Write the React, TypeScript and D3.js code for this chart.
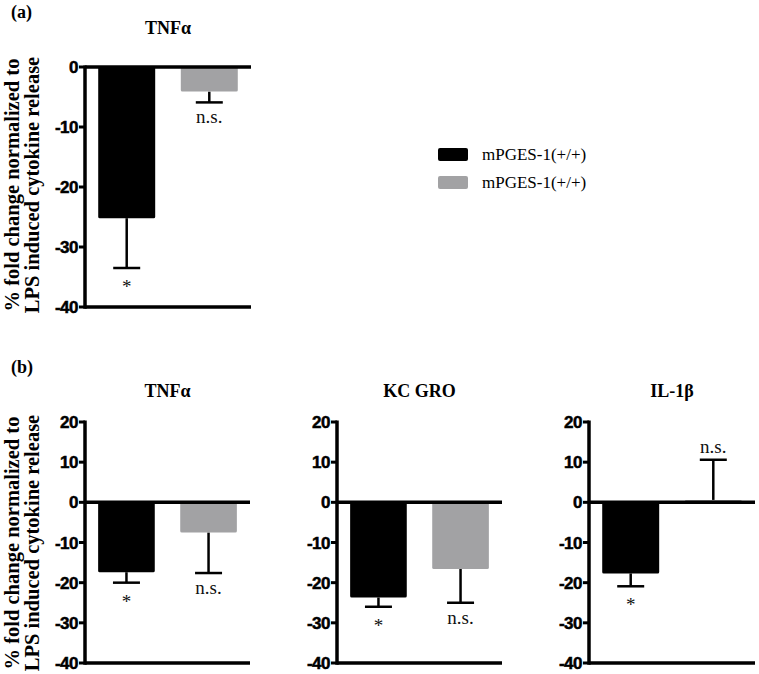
import React from "react";
import * as d3 from "d3";

const seriesLabels = ["mPGES-1(+/+)", "mPGES-1(+/+)"];
const seriesColors = ["#000000", "#a2a2a4"];

// Panel (a)
const panelACategories = ["TNFα"];
const panelAMeans = [[-25.2, -4.1]];
const panelAErrors = [[8.3, 1.8]];
const panelASig = [["*", "n.s."]];
const panelATicks = [0, -10, -20, -30, -40];

// Panel (b)
const panelBCategories = ["TNFα", "KC GRO", "IL-1β"];
const panelBMeans = [
  [-17.4, -7.5],
  [-23.7, -16.6],
  [-17.7, 0.6],
];
const panelBErrors = [
  [2.6, 10.1],
  [2.3, 8.4],
  [3.2, 10.0],
];
const panelBSig = [
  ["*", "n.s."],
  ["*", "n.s."],
  ["*", "n.s."],
];
const panelBTicks = [20, 10, 0, -10, -20, -30, -40];

const SERIF = "'Liberation Serif', 'Times New Roman', serif";
const SANS = "'Liberation Sans', Arial, sans-serif";

type SubProps = {
  title: string;
  means: number[];
  errors: number[];
  sig: string[];
  x0: number;
  x1: number;
  y: d3.ScaleLinear<number, number>;
  ticks: number[];
  titleY: number;
};

function Subplot({ title, means, errors, sig, x0, x1, y, ticks, titleY }: SubProps) {
  const x = d3
    .scaleBand<number>()
    .domain([0, 1])
    .range([x0, x1])
    .paddingInner(0.31)
    .paddingOuter(0.16);
  const [dMin, dMax] = y.domain();
  const capW = 27;
  return (
    <g>
      <text
        x={(x0 + x1) / 2}
        y={titleY}
        textAnchor="middle"
        fontFamily={SERIF}
        fontWeight="bold"
        fontSize={18}
      >
        {title}
      </text>
      {means.map((m, i) => {
        const bx = x(i)!;
        const bw = x.bandwidth();
        const top = y(Math.max(0, m));
        const bot = y(Math.min(0, m));
        const end = m + (m < 0 ? -errors[i] : errors[i]);
        const cx = bx + bw / 2;
        const labelY = m < 0 ? y(end) + (sig[i] === "*" ? 25 : 21) : y(end) - 7;
        return (
          <g key={i}>
            <line x1={cx} x2={cx} y1={y(m)} y2={y(end)} stroke="#000" strokeWidth={2.5} />
            <line x1={cx - capW / 2} x2={cx + capW / 2} y1={y(end)} y2={y(end)} stroke="#000" strokeWidth={2.5} />
            <rect x={bx} y={top} width={bw} height={Math.max(1, bot - top)} fill={seriesColors[i]} rx={1.5} />
            <text
              x={cx}
              y={labelY}
              textAnchor="middle"
              fontFamily={SERIF}
              fontSize={19}
              fill="#111"
            >
              {sig[i]}
            </text>
          </g>
        );
      })}
      {/* zero line and bottom line */}
      <line x1={x0} x2={x1} y1={y(0)} y2={y(0)} stroke="#000" strokeWidth={3.5} />
      <line x1={x0} x2={x1} y1={y(dMin)} y2={y(dMin)} stroke="#000" strokeWidth={3.5} />
      {/* y axis */}
      <line x1={x0} x2={x0} y1={y(dMax) - 1.5} y2={y(dMin) + 1.75} stroke="#000" strokeWidth={3.5} />
      {ticks.map((t) => (
        <g key={t}>
          <line x1={x0 - 6} x2={x0} y1={y(t)} y2={y(t)} stroke="#000" strokeWidth={3} />
          <text
            x={x0 - 7}
            y={y(t)}
            dy="0.36em"
            textAnchor="end"
            fontFamily={SANS}
            fontWeight="bold"
            fontSize={17}
            letterSpacing={-0.5}
            stroke="#000"
            strokeWidth={0.5}
          >
            {t}
          </text>
        </g>
      ))}
    </g>
  );
}

function YLabel({ cy }: { cy: number }) {
  return (
    <g fontFamily={SERIF} fontWeight="bold" fontSize={20.5} textAnchor="middle">
      <text transform={`translate(19,${cy}) rotate(-90)`}>% fold change normalized to</text>
      <text transform={`translate(39,${cy}) rotate(-90)`}>LPS induced cytokine release</text>
    </g>
  );
}

export default function App() {
  const yA = d3.scaleLinear().domain([-40, 0]).range([307, 67]);
  const yB = d3.scaleLinear().domain([-40, 20]).range([663, 422]);
  const bAxes: [number, number][] = [
    [85, 250],
    [337, 502],
    [589, 755],
  ];
  return (
    <svg
      width={759}
      height={674}
      style={{ position: "absolute", left: 0, top: 0, background: "#fff" }}
    >
      <rect width={759} height={674} fill="#fff" />
      <text x={11} y={18} fontFamily={SERIF} fontWeight="bold" fontSize={18}>
        (a)
      </text>
      <text x={11} y={373} fontFamily={SERIF} fontWeight="bold" fontSize={18}>
        (b)
      </text>
      <YLabel cy={185} />
      <YLabel cy={543} />
      {panelACategories.map((c, k) => (
        <Subplot
          key={c}
          title={c}
          means={panelAMeans[k]}
          errors={panelAErrors[k]}
          sig={panelASig[k]}
          x0={85}
          x1={251}
          y={yA}
          ticks={panelATicks}
          titleY={34}
        />
      ))}
      {panelBCategories.map((c, k) => (
        <Subplot
          key={c}
          title={c}
          means={panelBMeans[k]}
          errors={panelBErrors[k]}
          sig={panelBSig[k]}
          x0={bAxes[k][0]}
          x1={bAxes[k][1]}
          y={yB}
          ticks={panelBTicks}
          titleY={397}
        />
      ))}
      {/* legend */}
      {seriesLabels.map((s, i) => (
        <g key={i} transform={`translate(438,${148 + i * 28})`}>
          <rect width={30} height={13} rx={2} fill={seriesColors[i]} />
          <text x={44} y={12} fontFamily={SERIF} fontSize={17}>
            {s}
          </text>
        </g>
      ))}
    </svg>
  );
}
